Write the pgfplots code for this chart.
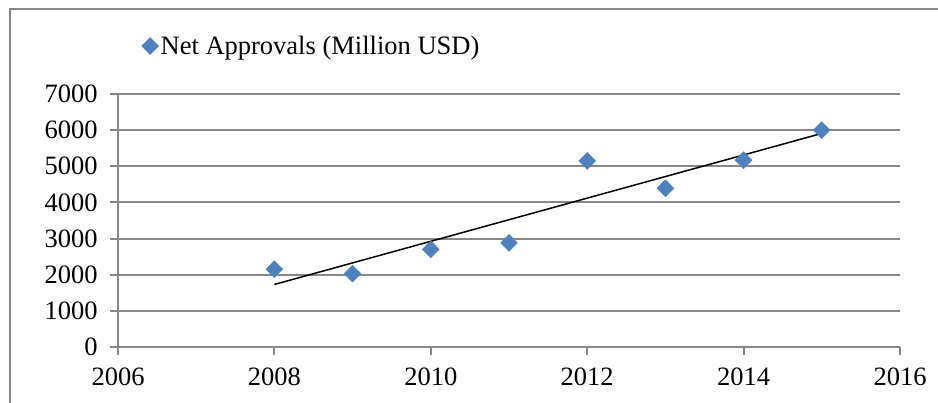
\documentclass[border=0pt]{standalone}
\usepackage{fontspec}
\setmainfont{Liberation Serif}
\usepackage{pgfplots}
\pgfplotsset{compat=1.18}
\definecolor{exblue}{HTML}{4F81BD}
\definecolor{exgray}{HTML}{878787}
\pgfplotsset{onept legend/.style={legend image code/.code={\draw[##1] plot coordinates {(0.15cm,0cm)};}}}
\begin{document}
\begin{tikzpicture}[x=1pt,y=1pt]
\useasboundingbox (0,0) rectangle (938,403);
\draw[exgray, line width=1.5pt] (10,0) -- (10,394) -- (938,394);
\begin{axis}[
  at={(118pt,56pt)}, anchor=south west,
  scale only axis, width=782pt, height=253pt,
  xmin=2006, xmax=2016, ymin=0, ymax=7000,
  xtick={2006,2008,...,2016}, ytick={0,1000,...,7000},
  axis lines=left, axis line style={exgray, line width=1.9pt, -},
  ymajorgrids, grid style={exgray, line width=1.9pt},
  tick align=outside, major tick length=8pt,
  tick style={exgray, line width=1.9pt},
  /pgf/number format/1000 sep={},
  /pgf/number format/assume math mode=true,
  tick label style={font=\fontsize{26.5}{30}\selectfont, text=black},
  xticklabel style={yshift=-9pt},
  yticklabel style={xshift=-9pt},
  clip=false,
  legend style={at={(0.03,1.19)}, anchor=west, draw=none, fill=none,
    font=\fontsize{26.5}{30}\selectfont, inner sep=0pt,
    /tikz/every even column/.append style={column sep=0pt}},
  legend cell align=left,
]
\addplot[only marks, mark=square*, mark size=6pt,
  mark options={rotate=45, fill=exblue, draw=exblue}, onept legend]
  coordinates {(2008,2150) (2009,2030) (2010,2700) (2011,2880)
               (2012,5150) (2013,4390) (2014,5170) (2015,6000)};
\addlegendentry{Net Approvals (Million USD)}
\addplot[black, line width=1.5pt, forget plot] coordinates {(2008,1730) (2015,5910)};
\end{axis}
\end{tikzpicture}
\end{document}
